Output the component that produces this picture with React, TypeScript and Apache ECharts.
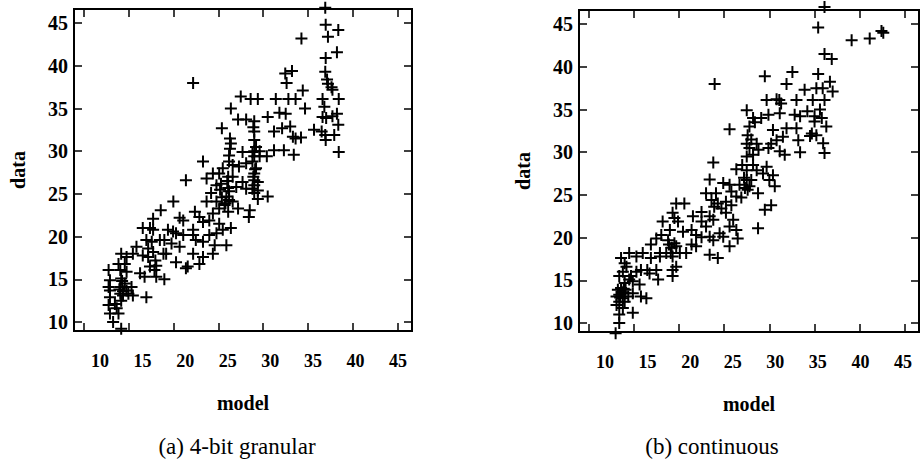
import React, { useEffect, useRef } from 'react';
import * as echarts from 'echarts';

const tickValues = [10, 15, 20, 25, 30, 35, 40, 45];
const xAxisName = 'model';
const yAxisName = 'data';
const captions = ['(a) 4-bit granular', '(b) continuous'];

// (a) 4-bit granular: [model, data]
const granularPoints: [number, number][] = [
  [36.9, 46.8], [36.95, 44.8], [38.35, 44.2], [37.2, 43.4], [34.25, 43.2], [38.2, 41.6], [36.95, 40.9], [36.9, 39.3],
  [37.1, 38.4], [37.2, 37.9], [37.6, 37.5], [37.7, 37.2], [36.6, 36.1], [38.4, 36.1], [36.8, 35.2], [38.2, 34.4],
  [36.6, 34.0], [37.0, 33.9], [37.7, 34.1], [38.35, 33.1], [35.65, 32.5], [36.5, 32.3], [36.9, 31.9], [37.9, 31.9],
  [36.95, 31.3], [38.4, 29.9],
  [32.45, 39.1], [32.6, 38.0], [33.2, 39.4], [34.4, 37.1], [33.6, 36.1], [32.8, 36.1], [31.4, 36.1], [34.65, 35.0],
  [30.5, 34.0], [31.8, 34.5], [32.5, 34.4], [31.2, 32.3], [32.1, 32.7], [33.0, 32.9], [33.3, 31.7], [33.6, 31.5],
  [34.2, 31.6], [31.2, 30.1], [32.3, 30.1], [33.4, 29.6], [30.4, 29.4], [29.6, 30.0],
  [27.5, 36.4], [28.6, 36.1], [29.4, 36.1], [26.4, 35.0], [27.2, 33.7], [28.1, 33.7], [29.0, 33.5], [25.4, 32.7],
  [29.0, 32.3], [29.0, 31.3], [29.2, 30.5], [26.4, 30.9], [26.3, 30.3], [27.7, 29.9], [28.8, 29.9], [29.0, 29.4],
  [29.6, 29.4], [28.1, 28.6], [23.3, 28.8], [27.3, 28.2], [26.6, 28.4], [25.5, 28.0], [25.1, 27.4], [29.2, 28.0],
  [29.0, 27.4], [24.4, 27.4], [26.6, 27.0], [26.1, 27.0], [21.4, 26.6], [23.7, 26.8], [29.0, 26.6], [29.4, 26.4],
  [27.7, 26.4], [25.3, 26.2], [24.8, 26.0], [27.0, 25.8], [28.1, 25.6], [28.8, 25.6], [29.4, 25.4], [26.2, 25.3],
  [24.2, 25.1], [25.9, 24.7], [29.0, 25.1], [30.5, 24.7], [29.4, 24.4], [26.2, 24.3], [26.6, 24.1], [23.7, 24.1],
  [24.8, 24.1], [25.7, 23.7], [25.1, 23.3], [27.2, 23.3], [24.4, 22.7], [28.5, 23.1], [26.1, 22.9], [28.4, 22.3],
  [22.4, 22.9], [22.9, 22.3], [24.0, 21.9], [25.1, 21.5], [23.3, 21.7], [21.1, 21.9], [22.2, 20.8], [26.4, 21.0],
  [25.5, 20.8], [24.8, 20.4], [24.0, 20.2], [22.2, 20.2], [22.5, 19.6], [23.3, 19.4], [25.9, 19.0], [24.6, 19.0],
  [22.2, 18.0], [24.4, 18.0], [23.3, 17.6], [22.9, 16.8], [21.4, 16.3], [21.6, 16.5],
  [20.0, 24.1], [18.6, 23.1], [17.75, 22.1], [20.7, 22.2], [16.6, 21.0], [17.4, 21.0], [17.75, 20.8], [19.4, 20.8],
  [19.97, 20.6], [20.3, 20.4], [21.1, 20.2], [15.9, 18.8], [17.0, 19.6], [18.5, 19.6], [19.0, 19.6], [19.8, 19.2],
  [20.7, 18.8], [17.75, 18.2], [18.9, 18.0], [16.6, 17.8], [17.2, 17.6], [15.5, 18.0], [19.2, 18.0], [20.3, 17.0],
  [18.1, 16.6], [17.4, 16.5], [16.3, 15.7], [16.8, 15.3], [18.1, 15.3], [19.0, 15.0], [17.9, 16.1], [17.0, 12.9],
  [14.2, 18.0], [14.8, 17.6], [13.9, 16.8], [14.6, 16.8], [14.1, 16.1], [14.8, 15.9], [14.2, 15.1], [14.6, 14.5],
  [14.1, 14.1], [14.8, 13.7], [15.35, 14.1], [15.5, 13.1], [14.4, 13.1], [14.2, 12.5], [12.8, 16.1], [12.95, 14.9],
  [12.8, 14.1], [12.95, 13.7], [12.95, 12.9], [12.8, 12.0], [13.5, 12.1], [12.95, 11.0], [13.9, 11.0], [13.3, 10.0],
  [14.2, 9.2], [13.7, 11.6], [14.1, 13.3], [15.0, 13.3], [22.2, 38.0],
  [28.9, 32.8], [29.0, 30.0], [28.8, 28.8], [29.1, 27.9], [28.9, 27.0], [29.0, 26.0], [26.3, 31.5], [26.2, 29.5],
  [26.2, 28.8], [26.0, 26.5], [26.1, 25.7], [25.8, 23.9], [25.4, 24.6], [25.2, 25.5], [14.3, 14.8], [14.0, 13.8],
  [14.4, 13.6], [17.2, 18.6], [17.6, 19.4], [18.0, 17.2],
];

// (b) continuous: [model, data]
const continuousPoints: [number, number][] = [
  [36.1, 47.0], [35.4, 44.6], [39.1, 43.1], [41.1, 43.3], [42.4, 44.2], [42.6, 44.0], [36.1, 41.5], [36.9, 40.9],
  [32.55, 39.4], [29.5, 38.9], [31.9, 38.0], [35.4, 39.15], [23.95, 38.0], [36.7, 38.25], [37.0, 37.1], [33.9, 37.3],
  [35.2, 37.5], [35.9, 37.5], [33.0, 36.1], [34.8, 36.1], [36.1, 36.1], [29.7, 36.1], [30.8, 36.2], [31.1, 36.1],
  [31.3, 35.7], [27.5, 34.9], [28.2, 34.0], [29.1, 34.0], [29.9, 34.4], [31.15, 34.55], [33.4, 34.2], [32.8, 34.4],
  [35.0, 34.2], [35.8, 34.0], [36.3, 33.0], [35.0, 33.6], [27.8, 33.0], [25.6, 32.7], [30.4, 32.6], [31.9, 32.8],
  [33.0, 32.8], [34.7, 32.2], [35.2, 32.0], [31.5, 31.8], [30.8, 31.4], [30.2, 31.0], [33.2, 31.4], [27.5, 31.0],
  [28.6, 31.0], [35.95, 31.05], [27.8, 30.5], [28.8, 30.3], [29.9, 30.5], [31.15, 30.1], [31.7, 29.7], [33.4, 30.0],
  [36.1, 29.9], [23.8, 28.8], [27.5, 29.5], [28.2, 29.7], [28.6, 27.9], [29.3, 27.5], [26.35, 28.0], [27.5, 27.9],
  [29.7, 28.3], [30.4, 27.3], [23.4, 26.8], [27.5, 26.75], [28.0, 26.75], [30.0, 26.75], [30.6, 26.0], [24.9, 26.4],
  [25.6, 26.2], [26.7, 26.2], [27.3, 25.8], [27.6, 25.6], [28.75, 25.2], [23.0, 25.2], [24.1, 25.2], [25.8, 25.4],
  [26.35, 24.8], [26.9, 24.7], [30.2, 23.8], [29.5, 23.25], [23.6, 24.4], [24.3, 24.0], [25.2, 24.2], [25.8, 23.8],
  [24.7, 23.4], [23.4, 22.5], [23.8, 22.1], [25.2, 22.9], [26.0, 22.1], [25.6, 21.3], [26.35, 20.9], [28.75, 21.1],
  [21.55, 22.5], [22.5, 21.9], [23.0, 21.3], [24.5, 20.5], [24.9, 20.1], [23.8, 19.7], [23.4, 20.1], [25.6, 19.0],
  [26.5, 19.9], [23.4, 18.0], [24.3, 17.6], [20.45, 20.7], [21.4, 20.9], [21.9, 20.3], [22.5, 20.05], [21.4, 19.2],
  [21.9, 19.0], [20.8, 18.2],
  [19.7, 24.0], [20.6, 24.0], [19.3, 22.9], [19.5, 22.3], [18.2, 21.9], [19.9, 21.9], [19.0, 20.9], [17.5, 19.9],
  [18.05, 20.3], [18.8, 19.7], [19.5, 19.35], [19.7, 19.0], [19.2, 18.8], [16.9, 19.2], [17.9, 18.2], [18.6, 18.2],
  [19.3, 17.8], [20.1, 18.2], [14.5, 18.2], [15.3, 17.8], [16.0, 18.2], [16.9, 17.6], [17.9, 17.8], [16.5, 16.2],
  [16.75, 15.8], [17.5, 16.2], [19.3, 16.2], [19.3, 15.5], [19.7, 16.6], [15.3, 16.0], [15.8, 16.2], [14.2, 16.6],
  [13.8, 16.0], [14.5, 15.1], [14.9, 14.9], [17.7, 15.1], [15.65, 14.5], [14.0, 14.7], [13.6, 14.1], [14.0, 13.5],
  [14.4, 13.1], [13.4, 13.3], [13.8, 12.9], [15.8, 13.1], [16.4, 12.9], [14.9, 13.5], [13.1, 13.1], [13.25, 13.9],
  [13.1, 12.1], [13.8, 11.75], [14.9, 11.2], [13.4, 11.0], [13.4, 10.0], [13.0, 8.8], [14.0, 12.5], [13.4, 12.5],
  [14.0, 17.0], [13.6, 17.6], [13.4, 15.5], [14.7, 15.5],
  [13.7, 13.6], [13.9, 14.0], [13.5, 13.0], [14.1, 13.9], [18.9, 19.2], [19.1, 18.2], [27.2, 27.0], [27.0, 28.5],
  [28.2, 28.5], [27.8, 26.0], [28.4, 33.5], [27.6, 32.0], [28.0, 31.5], [22.5, 23.0], [23.9, 23.6], [34.5, 31.9],
  [35.6, 35.0], [34.2, 34.8],
];

const FONT = 'Liberation Serif';
const PLUS = 'path://M5,0H7V5H12V7H7V12H5V7H0V5H5Z';

export default function App() {
  const ref = useRef<HTMLDivElement>(null);

  useEffect(() => {
    if (!ref.current) return;
    const chart = echarts.init(ref.current, undefined, { renderer: 'svg' });

    const grids = [
      { left: 74, top: 9, width: 338, height: 322 },
      { left: 579, top: 10, width: 340, height: 322 },
    ];
    const xRange = [8.95, 46.55];
    const yRange = [8.95, 46.65];
    const labelRanges = [[6.94, 46.64], [6.94, 46.88]];

    const tickStyle = { inside: true, length: 8, lineStyle: { color: '#000', width: 1.5 }, customValues: tickValues };

    const xAxes: any[] = [];
    const yAxes: any[] = [];
    grids.forEach((_, i) => {
      xAxes.push({
        gridIndex: i, type: 'value', min: xRange[0], max: xRange[1], position: 'bottom',
        axisLine: { show: false }, splitLine: { show: false }, axisTick: tickStyle,
        axisLabel: { show: false },
        name: xAxisName, nameLocation: 'middle', nameGap: 62,
        nameTextStyle: { fontFamily: FONT, fontSize: 20, fontWeight: 'bold', color: '#000' },
      });
      xAxes.push({
        gridIndex: i, type: 'value', min: xRange[0], max: xRange[1], position: 'top',
        axisLine: { show: false }, splitLine: { show: false }, axisTick: tickStyle,
        axisLabel: { show: false },
      });
      xAxes.push({
        gridIndex: i, type: 'value', min: labelRanges[i][0], max: labelRanges[i][1], position: 'bottom',
        axisLine: { show: false }, splitLine: { show: false }, axisTick: { show: false },
        axisLabel: {
          customValues: tickValues, margin: 21, fontFamily: FONT, fontSize: 18, fontWeight: 'bold', color: '#000',
        },
      });
      yAxes.push({
        gridIndex: i, type: 'value', min: yRange[0], max: yRange[1], position: 'left',
        axisLine: { show: false }, splitLine: { show: false }, axisTick: tickStyle,
        axisLabel: {
          customValues: tickValues, margin: 6, fontFamily: FONT, fontSize: 20, fontWeight: 'bold', color: '#000',
        },
        name: yAxisName, nameLocation: 'middle', nameGap: 46, nameRotate: 90,
        nameTextStyle: { fontFamily: FONT, fontSize: 20, fontWeight: 'bold', color: '#000' },
      });
      yAxes.push({
        gridIndex: i, type: 'value', min: yRange[0], max: yRange[1], position: 'right',
        axisLine: { show: false }, splitLine: { show: false }, axisTick: tickStyle,
        axisLabel: { show: false },
      });
    });

    const seriesData = [granularPoints, continuousPoints];

    chart.setOption({
      animation: false,
      backgroundColor: '#fff',
      grid: grids.map((g) => ({ ...g, show: true, borderColor: '#000', borderWidth: 2, backgroundColor: 'transparent' })),
      xAxis: xAxes,
      yAxis: yAxes,
      series: seriesData.map((d, i) => ({
        type: 'scatter',
        xAxisIndex: i * 3,
        yAxisIndex: i * 2,
        data: d,
        symbol: PLUS,
        symbolSize: 12,
        clip: false,
        itemStyle: { color: '#000', opacity: 1 },
        silent: true,
      })),
      graphic: [
        {
          type: 'text', x: 237, y: 446,
          style: { text: captions[0], font: '23px "Liberation Serif"', fill: '#000', textAlign: 'center', textVerticalAlign: 'middle' },
        },
        {
          type: 'text', x: 712, y: 446,
          style: { text: captions[1], font: '23px "Liberation Serif"', fill: '#000', textAlign: 'center', textVerticalAlign: 'middle' },
        },
      ],
    });

    return () => chart.dispose();
  }, []);

  return <div ref={ref} style={{ position: 'absolute', left: 0, top: 0, width: 923, height: 471 }} />;
}
